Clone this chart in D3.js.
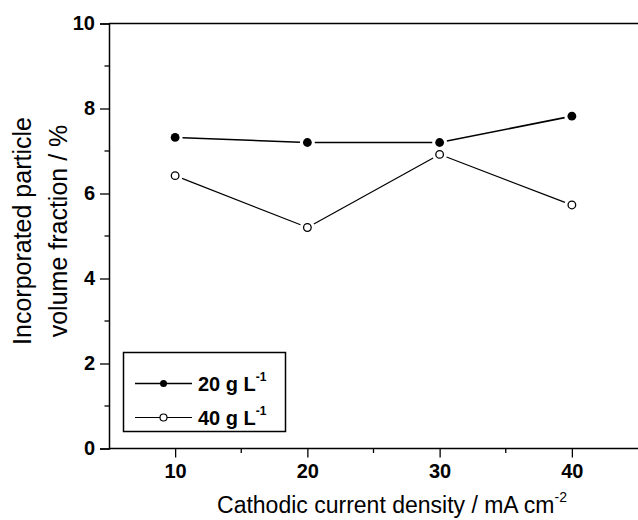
<!DOCTYPE html>
<html>
<head>
<meta charset="utf-8">
<script src="https://cdn.jsdelivr.net/npm/d3@7"></script>
<style>
  html, body { margin: 0; padding: 0; background: #fff; }
  svg { display: block; font-family: "Liberation Sans", Arial, sans-serif; }
</style>
</head>
<body>
<svg id="chart" width="638" height="520"></svg>
<script>
// Current density (mA cm^-2) and incorporated particle volume fraction (%)
const currentDensity = [10, 20, 30, 40];
const series20 = [7.32, 7.20, 7.20, 7.82];
const series40 = [6.42, 5.20, 6.92, 5.73];
const seriesNames = ["20 g L", "40 g L"];
const xTicks = [10, 20, 30, 40];
const yTicks = [0, 2, 4, 6, 8, 10];

const svg = d3.select("#chart");
const margin = { left: 109, top: 23.5, right: 0, bottom: 71.5 };
const W = 638, H = 520;

const x = d3.scaleLinear().domain([5, 45]).range([margin.left, W - margin.right]);
const y = d3.scaleLinear().domain([0, 10]).range([H - margin.bottom, margin.top]);

// Frame: top line, left and bottom axes
svg.append("line")
  .attr("x1", x(5)).attr("x2", W + 5)
  .attr("y1", y(10)).attr("y2", y(10))
  .attr("stroke", "#000").attr("stroke-width", 1.5);

// Y axis
const yAxis = d3.axisLeft(y).tickValues(yTicks).tickSize(9).tickPadding(5).tickFormat(d3.format("d"));
const gy = svg.append("g").attr("transform", `translate(${x(5)},0)`).call(yAxis);
gy.select(".domain").attr("stroke-width", 1.5);
gy.selectAll(".tick line").attr("stroke-width", 1.3);
gy.selectAll(".tick text").attr("font-size", 20).attr("font-weight", "bold")
  .attr("font-family", "Liberation Sans, Arial, sans-serif").attr("fill", "#000");
// minor y ticks
const yMinor = d3.range(1, 10, 2);
svg.append("g").selectAll("line").data(yMinor).join("line")
  .attr("x1", x(5) - 4.5).attr("x2", x(5))
  .attr("y1", d => y(d)).attr("y2", d => y(d))
  .attr("stroke", "#000").attr("stroke-width", 1.3);

// X axis
const xAxis = d3.axisBottom(x).tickValues(xTicks).tickSize(9).tickPadding(6).tickFormat(d3.format("d"));
const gx = svg.append("g").attr("transform", `translate(0,${y(0)})`).call(xAxis);
gx.select(".domain").attr("stroke-width", 1.5).attr("d", `M${x(5)},0H${W + 5}`);
gx.selectAll(".tick line").attr("stroke-width", 1.3);
gx.selectAll(".tick text").attr("font-size", 20).attr("font-weight", "bold")
  .attr("font-family", "Liberation Sans, Arial, sans-serif").attr("fill", "#000");
const xMinor = [15, 25, 35];
svg.append("g").selectAll("line").data(xMinor).join("line")
  .attr("x1", d => x(d)).attr("x2", d => x(d))
  .attr("y1", y(0)).attr("y2", y(0) + 4.5)
  .attr("stroke", "#000").attr("stroke-width", 1.3);

// Axis titles
const xTitle = svg.append("text")
  .attr("x", 392).attr("y", 513)
  .attr("text-anchor", "middle")
  .attr("font-size", 23).attr("fill", "#000");
xTitle.append("tspan").text("Cathodic current density / mA cm");
xTitle.append("tspan").attr("font-size", 14).attr("dy", -11).text("-2");

const yTitle = svg.append("text")
  .attr("transform", `translate(31,231) rotate(-90)`)
  .attr("text-anchor", "middle")
  .attr("font-size", 25).attr("fill", "#000");
yTitle.append("tspan").attr("x", 0).attr("dy", 0).text("Incorporated particle");
yTitle.append("tspan").attr("x", 0).attr("dy", 36).text("volume fraction / %");

// Data lines drawn as segments that stop short of each marker
const R = 4.4, GAP = 3;
function segments(vals) {
  const pts = currentDensity.map((c, i) => [x(c), y(vals[i])]);
  const segs = [];
  for (let i = 0; i < pts.length - 1; i++) {
    const [x0, y0] = pts[i], [x1, y1] = pts[i + 1];
    const len = Math.hypot(x1 - x0, y1 - y0);
    const ux = (x1 - x0) / len, uy = (y1 - y0) / len;
    const s = R + GAP;
    segs.push([x0 + ux * s, y0 + uy * s, x1 - ux * s, y1 - uy * s]);
  }
  return segs;
}

function drawSeries(vals, filled, lw) {
  const g = svg.append("g");
  g.selectAll("line").data(segments(vals)).join("line")
    .attr("x1", d => d[0]).attr("y1", d => d[1])
    .attr("x2", d => d[2]).attr("y2", d => d[3])
    .attr("stroke", "#000").attr("stroke-width", lw);
  g.selectAll("circle").data(vals).join("circle")
    .attr("cx", (d, i) => x(currentDensity[i]))
    .attr("cy", d => y(d))
    .attr("r", filled ? R : R - 0.6)
    .attr("fill", filled ? "#000" : "#fff")
    .attr("stroke", "#000").attr("stroke-width", filled ? 0 : 1.3);
}
drawSeries(series20, true, 1.6);
drawSeries(series40, false, 1.2);

// Legend
const legend = svg.append("g");
legend.append("rect")
  .attr("x", 123.5).attr("y", 352.5).attr("width", 162).attr("height", 79)
  .attr("fill", "#fff").attr("stroke", "#000").attr("stroke-width", 1.5);
const rows = [
  { name: seriesNames[0], filled: true, lw: 1.6, cy: 383.5 },
  { name: seriesNames[1], filled: false, lw: 1.2, cy: 417.5 }
];
rows.forEach(r => {
  legend.append("line").attr("x1", 135).attr("x2", 192)
    .attr("y1", r.cy).attr("y2", r.cy)
    .attr("stroke", "#000").attr("stroke-width", r.lw);
  legend.append("circle").attr("cx", 163.5).attr("cy", r.cy).attr("r", 3.5)
    .attr("fill", r.filled ? "#000" : "#fff")
    .attr("stroke", "#000").attr("stroke-width", r.filled ? 0 : 1.2);
  const t = legend.append("text").attr("x", 198).attr("y", r.cy + 7)
    .attr("font-size", 20).attr("font-weight", "bold").attr("fill", "#000");
  t.append("tspan").text(r.name);
  t.append("tspan").attr("font-size", 12).attr("dy", -10).text("-1");
});
</script>
</body>
</html>
